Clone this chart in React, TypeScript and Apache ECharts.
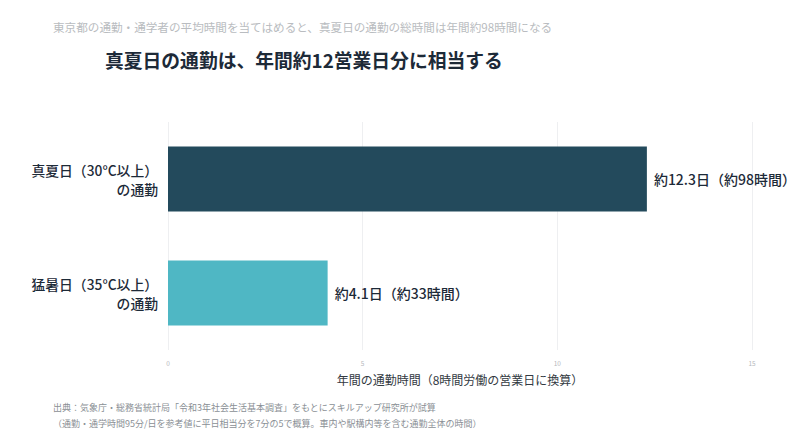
import { useEffect, useRef } from "react";
import * as echarts from "echarts";

// Data
const categories = ["真夏日（30°C以上）\nの通勤", "猛暑日（35°C以上）\nの通勤"];
const workdays = [12.3, 4.1];
const hours = [98, 33];
const barColors = ["#234a5c", "#4fb7c4"];
const xTicks = { min: 0, max: 15, interval: 5 };

const SUBTITLE =
  "東京都の通勤・通学者の平均時間を当てはめると、真夏日の通勤の総時間は年間約98時間になる";
const TITLE = "真夏日の通勤は、年間約12営業日分に相当する";
const AXIS_NAME = "年間の通勤時間（8時間労働の営業日に換算）";
const SOURCE_1 =
  "出典：気象庁・総務省統計局「令和3年社会生活基本調査」をもとにスキルアップ研究所が試算";
const SOURCE_2 =
  "（通勤・通学時間95分/日を参考値に平日相当分を7分の5で概算。車内や駅構内等を含む通勤全体の時間）";

const FONT = "'Noto Sans CJK JP', 'Noto Sans', sans-serif";
const DARK = "#1d2a38";

export default function App() {
  const ref = useRef<HTMLDivElement>(null);

  useEffect(() => {
    if (!ref.current) return;
    const chart = echarts.init(ref.current, undefined, { renderer: "svg" });

    chart.setOption({
      animation: false,
      backgroundColor: "#ffffff",
      textStyle: { fontFamily: FONT },
      title: [
        {
          text: SUBTITLE,
          left: 53,
          top: 21,
          padding: 0,
          textStyle: { fontSize: 11.6, color: "#b9bcc0", fontWeight: "normal" },
        },
        {
          text: TITLE,
          left: 105,
          top: 50,
          padding: 0,
          textStyle: { fontSize: 18.8, color: DARK, fontWeight: "bold" },
        },
        {
          text: SOURCE_1,
          left: 53,
          top: 403,
          padding: 0,
          textStyle: { fontSize: 9, color: "#8a8f95", fontWeight: "normal" },
        },
        {
          text: SOURCE_2,
          left: 53,
          top: 419,
          padding: 0,
          textStyle: { fontSize: 9, color: "#8a8f95", fontWeight: "normal" },
        },
      ],
      grid: { left: 168, right: 48, top: 122, bottom: 86, containLabel: false },
      xAxis: {
        type: "value",
        ...xTicks,
        name: AXIS_NAME,
        nameLocation: "middle",
        nameGap: 23,
        nameTextStyle: { fontSize: 12, color: "#333a42" },
        axisLine: { show: false },
        axisTick: { show: false },
        axisLabel: { fontSize: 6.5, color: "#b5b8bc", margin: 10 },
        splitLine: { show: true, lineStyle: { color: "#eeeff1", width: 1 } },
      },
      yAxis: {
        type: "category",
        inverse: true,
        data: categories,
        axisLine: { show: false },
        axisTick: { show: false },
        axisLabel: {
          fontSize: 13.8,
          color: DARK,
          fontWeight: 500,
          lineHeight: 19,
          margin: 10,
          align: "right",
        },
      },
      series: [
        {
          type: "bar",
          barWidth: 65,
          data: workdays.map((v, i) => ({
            value: v,
            itemStyle: { color: barColors[i] },
            label: {
              show: true,
              position: "right",
              distance: 7,
              formatter: `約${v}日（約${hours[i]}時間）`,
              fontSize: 14,
              fontWeight: 500,
              color: DARK,
            },
          })),
        },
      ],
    });

    return () => chart.dispose();
  }, []);

  return (
    <div
      ref={ref}
      style={{ position: "fixed", left: 0, top: 0, width: 800, height: 436 }}
    />
  );
}
